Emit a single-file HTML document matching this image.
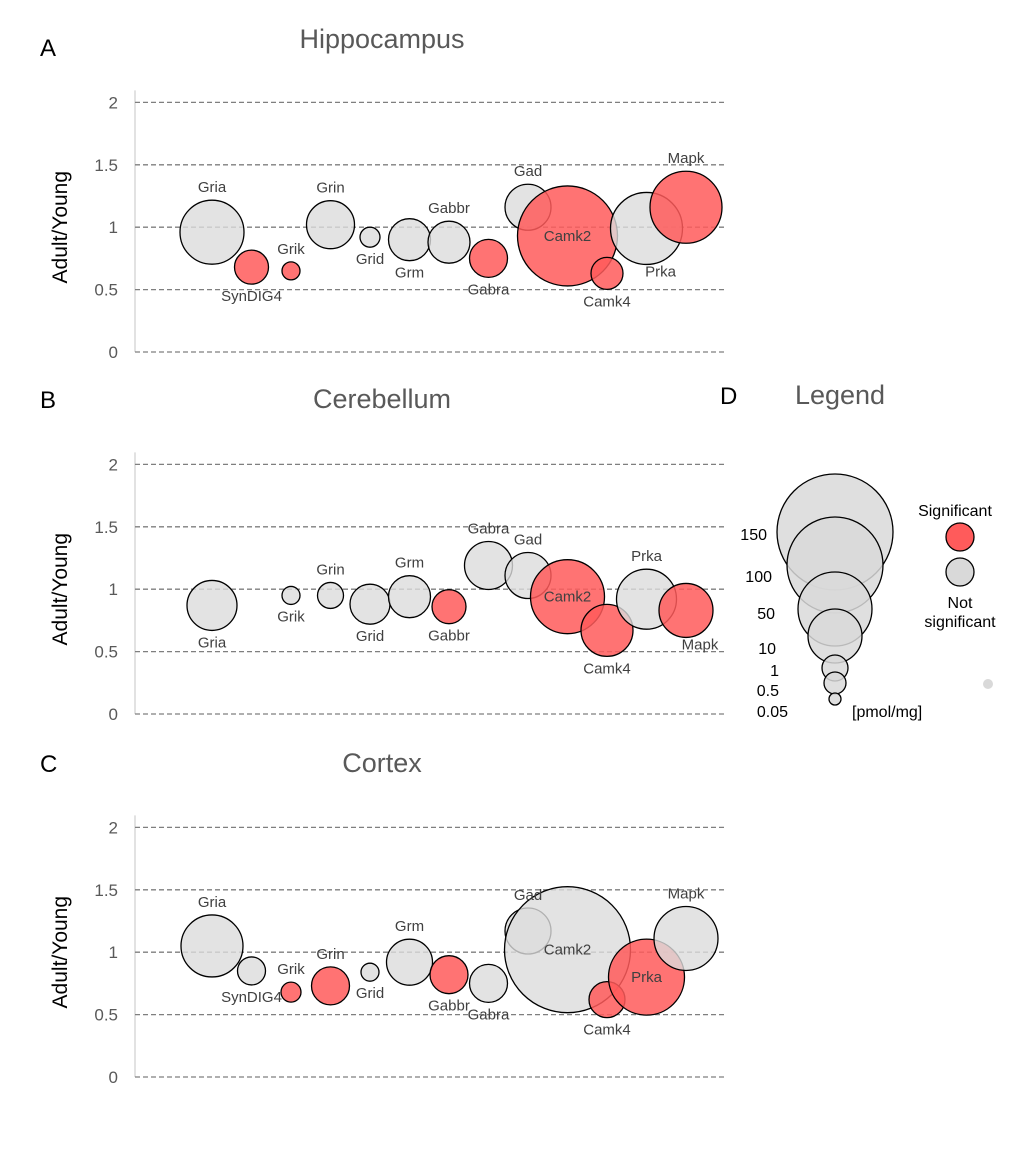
<!DOCTYPE html>
<html><head><meta charset="utf-8">
<style>
body{margin:0;background:#fff;}
svg text{font-family:"Liberation Sans",sans-serif;}
</style></head>
<body>
<svg id="chart" width="1020" height="1146" viewBox="0 0 1020 1146" xmlns="http://www.w3.org/2000/svg">
<g id="root"></g>
</svg>
<script>
const categories = ["Gria","SynDIG4","Grik","Grin","Grid","Grm","Gabbr","Gabra","Gad","Camk2","Camk4","Prka","Mapk"];
const yTicks = [0,0.5,1,1.5,2];
const tickLabels = ["0","0.5","1","1.5","2"];
// Hippocampus
const hipValues = [0.96,0.68,0.65,1.02,0.92,0.90,0.88,0.75,1.16,0.93,0.63,0.99,1.16];
const hipSizes  = [32,17,9,24,10,21,21,19,23,50,16,36,36];
const hipSig    = [0,1,1,0,0,0,0,1,0,1,1,0,1];
const hipLabelPos = ["a","b","a","a","b","b","a","b","a","c","b","br","a"];
// Cerebellum (null = missing)
const cbValues = [0.87,null,0.95,0.95,0.88,0.94,0.86,1.19,1.11,0.94,0.67,0.92,0.83];
const cbSizes  = [25,0,9,13,20,21,17,24,23,37,26,30,27];
const cbSig    = [0,0,0,0,0,0,1,0,0,1,1,0,1];
const cbLabelPos = ["b","b","b","a","b","a","b","a","a","c","b","a","br"];
// Cortex
const cxValues = [1.05,0.85,0.68,0.73,0.84,0.92,0.82,0.75,1.17,1.02,0.62,0.80,1.11];
const cxSizes  = [31,14,10,19,9,23,19,19,23,63,18,38,32];
const cxSig    = [0,0,1,1,0,0,1,0,0,0,1,1,0];
const cxLabelPos = ["a","b","a","a","b","a","b","b","a","c","b","c","a"];

const NS="http://www.w3.org/2000/svg";
const root=document.getElementById('root');
function mk(tag,attrs,parent){const e=document.createElementNS(NS,tag);for(const k in attrs)e.setAttribute(k,attrs[k]);(parent||root).appendChild(e);return e;}
function txt(s,attrs,parent){const e=mk('text',attrs,parent);e.textContent=s;return e;}

const panels=[
 {letter:"A",title:"Hippocampus",y0:352,vals:hipValues,sizes:hipSizes,sig:hipSig,pos:hipLabelPos,titleY:48,letterY:56},
 {letter:"B",title:"Cerebellum",y0:714,vals:cbValues,sizes:cbSizes,sig:cbSig,pos:cbLabelPos,titleY:408,letterY:408},
 {letter:"C",title:"Cortex",y0:1077,vals:cxValues,sizes:cxSizes,sig:cxSig,pos:cxLabelPos,titleY:772,letterY:772}
];
const unit=124.8;
function xScale(i){return 212+i*39.5;}

panels.forEach(p=>{
  const g=mk('g',{});
  
  
  const yS=v=>p.y0-v*unit;
  const l=txt(p.letter,{x:40,y:p.letterY,'font-size':24,fill:'#000'},g);
  
  
  const t=txt(p.title,{x:382,y:p.titleY,'font-size':27,fill:'#595959','text-anchor':'middle'},g);
  
  
  const ax=mk('line',{x1:135,x2:135,y1:yS(2)-12,y2:yS(0),stroke:'#d9d9d9','stroke-width':1.5},g);
  
  
  yTicks.forEach((v,k)=>{
    const gl=mk('line',{x1:135,x2:725,y1:yS(v),y2:yS(v),stroke:'#7f7f7f','stroke-width':1.3,'stroke-dasharray':'5,3'},g);
    
    
    const tl=txt(tickLabels[k],{x:118,y:yS(v)+6,'font-size':17,fill:'#595959','text-anchor':'end'},g);
    
    
  });
  const yt=txt("Adult/Young",{x:0,y:0,'font-size':21,fill:'#000','text-anchor':'middle',transform:`translate(67,${yS(1)}) rotate(-90)`},g);
  
  
  categories.forEach((c,i)=>{
    const v=p.vals[i]; if(v===null)return;
    const cx=xScale(i),cy=yS(v),r=p.sizes[i];
    const b=mk('circle',{cx:cx,cy:cy,r:r,fill:p.sig[i]?'#ff5b5b':'#dcdcdc','fill-opacity':p.sig[i]?0.85:0.8,stroke:'#000','stroke-width':1.3},g);
    
    
  });
  categories.forEach((c,i)=>{
    const v=p.vals[i]; if(v===null)return;
    const cx=xScale(i),cy=yS(v),r=p.sizes[i],ps=p.pos[i];
    let lx=cx,ly;
    if(ps==="a")ly=cy-r-8;
    else if(ps==="b")ly=cy+r+17;
    else if(ps==="br"){lx=cx+14;ly=cy+r+12;}
    else ly=cy+5;
    const lb=txt(c,{x:lx,y:ly,'font-size':15,fill:'#404040','text-anchor':'middle'},g);
    
    
  });
});

// Legend
const lg=mk('g',{});


const lt=txt("D",{x:720,y:404,'font-size':24,fill:'#000'},lg);


const lh=txt("Legend",{x:840,y:404,'font-size':27,fill:'#595959','text-anchor':'middle'},lg);


const legSizes=["150","100","50","10","1","0.5","0.05"];
const legR=[58,48,37,27,13,11,6];
const legCY=[532,565,609,636,668,683,699];
const legLY=[540,582,619,654,676,696,717];
legSizes.forEach((s,k)=>{
  const c=mk('circle',{cx:835,cy:legCY[k],r:legR[k],fill:'#d9d9d9','fill-opacity':0.85,stroke:'#000','stroke-width':1.3},lg);
  
  
  const t=txt(s,{x:[767,772,775,776,779,779,788][k],y:legLY[k],'font-size':16,fill:'#000','text-anchor':'end'},lg);
  
  
});
const pm=txt("[pmol/mg]",{x:852,y:717,'font-size':16,fill:'#000'},lg);


const st=txt("Significant",{x:955,y:516,'font-size':16,fill:'#000','text-anchor':'middle'},lg);


const sc=mk('circle',{cx:960,cy:537,r:14,fill:'#ff5b5b',stroke:'#000','stroke-width':1.3},lg);


const nc=mk('circle',{cx:960,cy:572,r:14,fill:'#d9d9d9',stroke:'#000','stroke-width':1.3},lg);


const n1=txt("Not",{x:960,y:608,'font-size':16,fill:'#000','text-anchor':'middle'},lg);


const n2=txt("significant",{x:960,y:627,'font-size':16,fill:'#000','text-anchor':'middle'},lg);


const dot=mk('circle',{cx:988,cy:684,r:5,fill:'#d9d9d9'},lg);


</script>
</body></html>
